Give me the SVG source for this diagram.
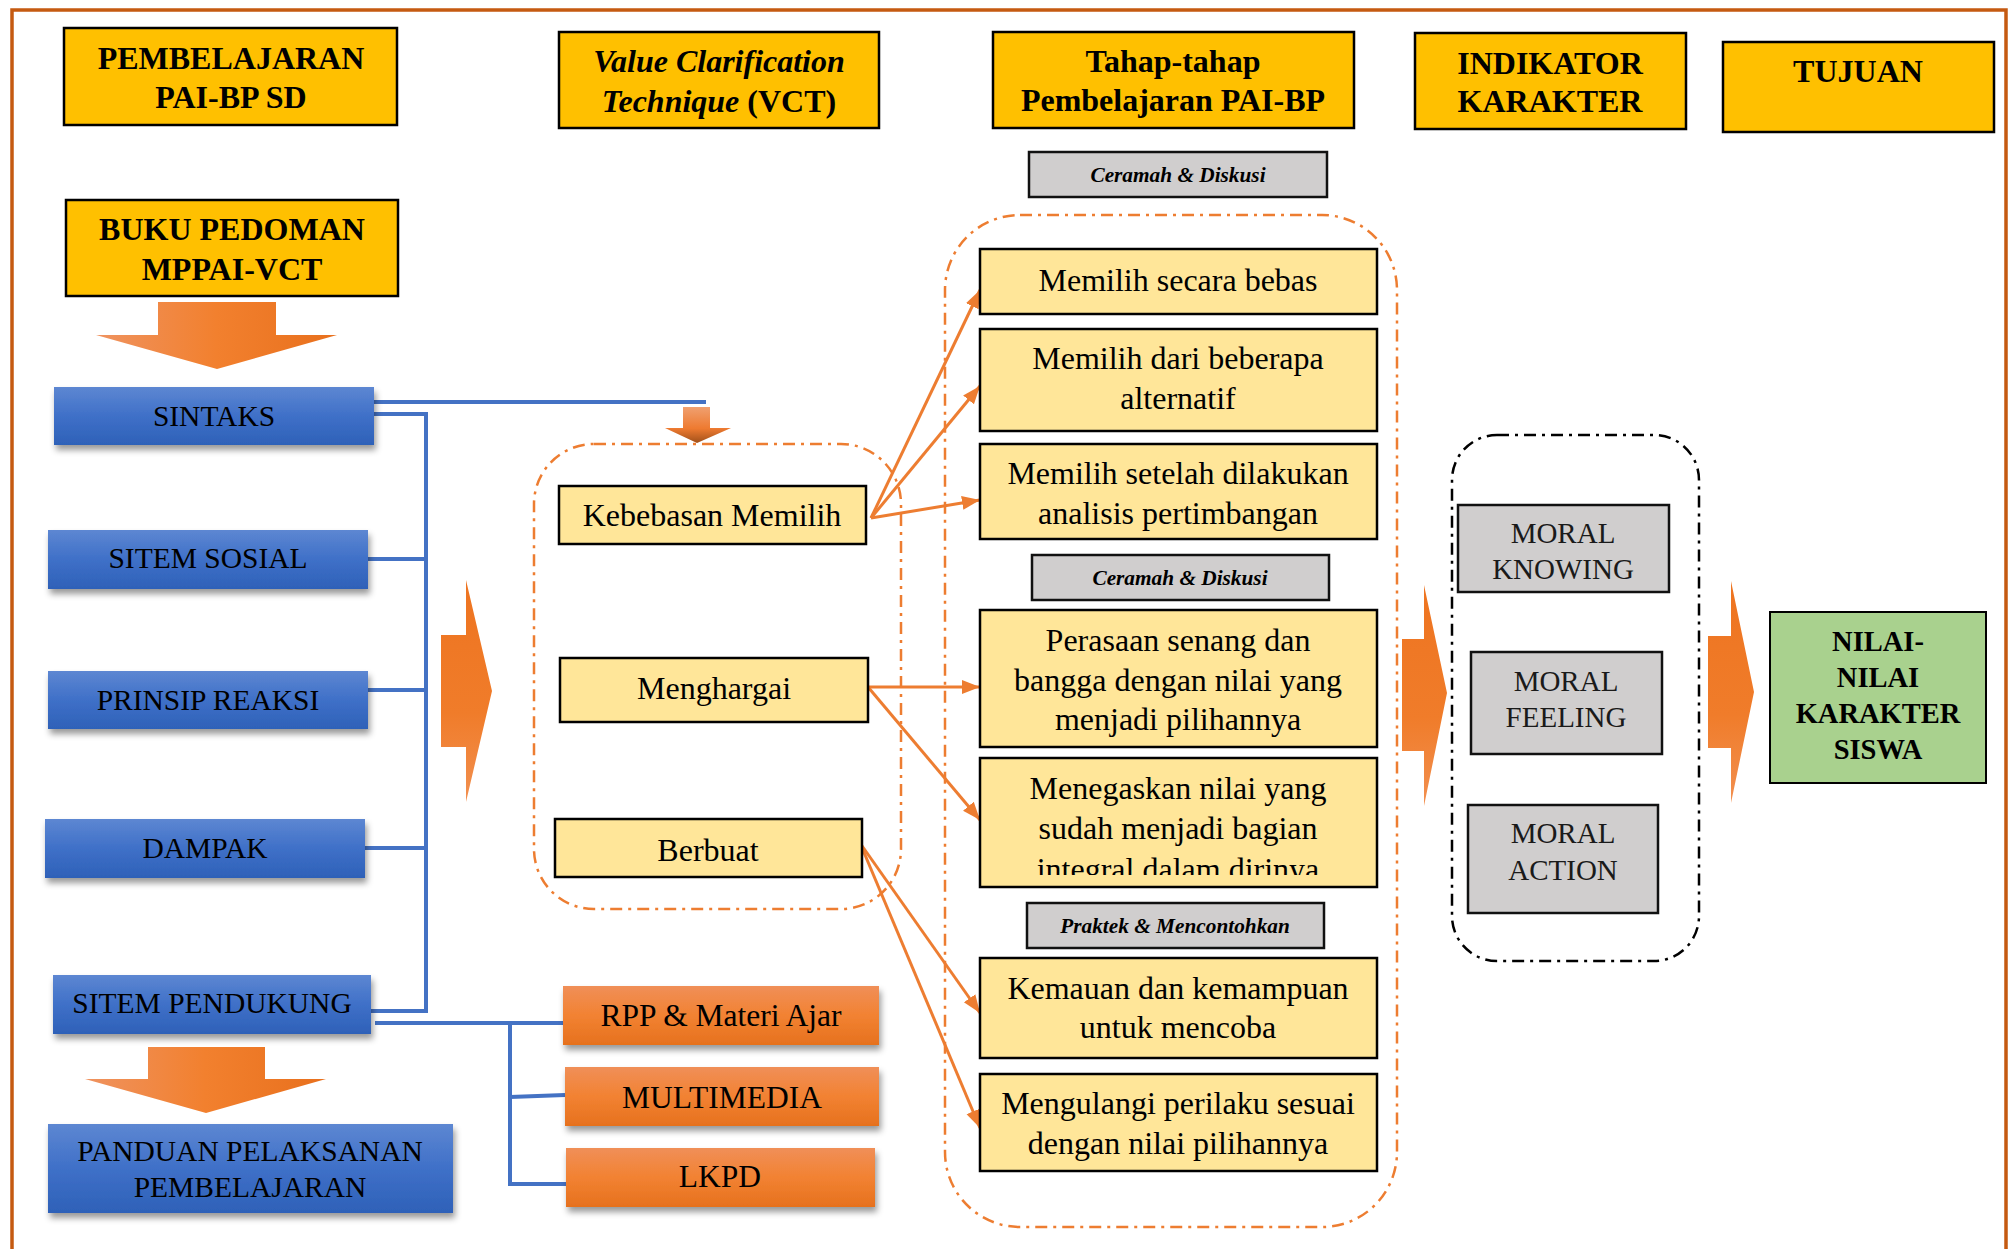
<svg xmlns="http://www.w3.org/2000/svg" width="2016" height="1249" viewBox="0 0 2016 1249">
<defs>
<linearGradient id="gBlue" x1="0" y1="0" x2="0" y2="1"><stop offset="0" stop-color="#5D87D2"/><stop offset="0.5" stop-color="#3F70C8"/><stop offset="1" stop-color="#2E61B8"/></linearGradient>
<linearGradient id="gOr" x1="0" y1="0" x2="0" y2="1"><stop offset="0" stop-color="#F08F58"/><stop offset="0.5" stop-color="#F28232"/><stop offset="1" stop-color="#E6711E"/></linearGradient>
<linearGradient id="gArH" x1="0" y1="0" x2="1" y2="0"><stop offset="0" stop-color="#EF9360"/><stop offset="0.5" stop-color="#F2802E"/><stop offset="1" stop-color="#E8701D"/></linearGradient>
<linearGradient id="gArV" x1="0" y1="0" x2="0" y2="1"><stop offset="0" stop-color="#EE7420"/><stop offset="0.6" stop-color="#F07C2A"/><stop offset="1" stop-color="#F29050"/></linearGradient>
<linearGradient id="gSm" x1="0" y1="0" x2="0" y2="1"><stop offset="0" stop-color="#F0A070"/><stop offset="0.6" stop-color="#EE7A30"/><stop offset="1" stop-color="#A0501A"/></linearGradient>
<filter id="sh" x="-10%" y="-10%" width="130%" height="150%"><feDropShadow dx="2" dy="5" stdDeviation="3" flood-color="#000" flood-opacity="0.4"/></filter>
<marker id="ah" markerUnits="userSpaceOnUse" markerWidth="20" markerHeight="16" refX="18" refY="8" orient="auto"><path d="M0,1 L18,8 L0,15 Z" fill="#ED7D31"/></marker>
<clipPath id="clipB5"><rect x="980" y="758" width="397" height="117"/></clipPath>
<style>
.hdr{fill:#FFC000;stroke:#000;stroke-width:2.5}
.ht{font-family:"Liberation Serif",serif;font-weight:bold;font-size:32px;text-anchor:middle;fill:#000}
.blue{fill:url(#gBlue);filter:url(#sh)}
.orn{fill:url(#gOr);filter:url(#sh)}
.bt{font-family:"Liberation Serif",serif;font-size:29.5px;text-anchor:middle;fill:#000}
.ot{font-family:"Liberation Serif",serif;font-size:31.5px;text-anchor:middle;fill:#000}
.yl{fill:#FFE699;stroke:#000;stroke-width:2.5}
.yt{font-family:"Liberation Serif",serif;font-size:32px;text-anchor:middle;fill:#000}
.gr{fill:#D0CECE;stroke:#111;stroke-width:2.5}
.gt{font-family:"Liberation Serif",serif;font-size:21.3px;font-style:italic;font-weight:bold;text-anchor:middle;fill:#000}
.mt{font-family:"Liberation Serif",serif;font-size:29px;text-anchor:middle;fill:#1a1a1a}
.nt{font-family:"Liberation Serif",serif;font-weight:bold;font-size:28.5px;text-anchor:middle;fill:#000}
.con{fill:none;stroke:#4472C4;stroke-width:4}
.arr{fill:none;stroke:#ED7D31;stroke-width:3;marker-end:url(#ah)}
.dOr{fill:none;stroke:#ED7D31;stroke-width:2.5;stroke-dasharray:12 6 3 6}
.dBk{fill:none;stroke:#000;stroke-width:2.5;stroke-dasharray:12 6 3 6}
</style>
</defs>
<rect width="2016" height="1249" fill="#fff"/>
<path d="M12,1249 V10 H2006 V1249" fill="none" stroke="#C55A11" stroke-width="3.5"/>

<g id="h-pembelajaran"><rect class="hdr" x="64" y="28" width="333" height="97"/><text class="ht" x="231" y="69">PEMBELAJARAN</text><text class="ht" x="231" y="108">PAI-BP SD</text></g>
<g id="h-vct"><rect class="hdr" x="559" y="32" width="320" height="96"/><text class="ht" x="719" y="72" font-style="italic">Value Clarification</text><text class="ht" x="719" y="112"><tspan font-style="italic">Technique</tspan> (VCT)</text></g>
<g id="h-tahap"><rect class="hdr" x="993" y="32" width="361" height="96"/><text class="ht" x="1173" y="72">Tahap-tahap</text><text class="ht" x="1173" y="111">Pembelajaran PAI-BP</text></g>
<g id="h-indikator"><rect class="hdr" x="1415" y="33" width="271" height="96"/><text class="ht" x="1550" y="74">INDIKATOR</text><text class="ht" x="1550" y="112">KARAKTER</text></g>
<g id="h-tujuan"><rect class="hdr" x="1723" y="42" width="271" height="90"/><text class="ht" x="1858" y="82">TUJUAN</text></g>
<g id="buku"><rect class="hdr" x="66" y="200" width="332" height="96"/><text class="ht" x="232" y="240">BUKU PEDOMAN</text><text class="ht" x="232" y="280">MPPAI-VCT</text></g>

<g id="connectors">
<path class="con" d="M374,402 H706"/>
<path class="con" d="M374,414 H426 V1011 H371"/>
<path class="con" d="M368,559 H426"/>
<path class="con" d="M368,690 H426"/>
<path class="con" d="M365,848 H426"/>
<path class="con" d="M375,1023 H563"/>
<path class="con" d="M510,1023 V1184 H566"/>
<path class="con" d="M510,1097 L565,1095"/>
<path class="arr" d="M871,518 L980,290"/>
<path class="arr" d="M871,518 L980,386"/>
<path class="arr" d="M871,518 L980,500"/>
<path class="arr" d="M868,687 L980,687"/>
<path class="arr" d="M868,687 L980,820"/>
<path class="arr" d="M860,843 L980,1013"/>
<path class="arr" d="M860,843 L980,1128"/>
</g>

<g id="big-arrows">
<polygon points="158,302 276,302 276,335 337,335 217,369 96,335 158,335" fill="url(#gArH)"/>
<polygon points="148,1047 265,1047 265,1079 326,1079 206,1113 85,1079 148,1079" fill="url(#gArH)"/>
<polygon points="683,407 710,407 710,428 731,428 697,443 665,428 683,428" fill="url(#gSm)"/>
<polygon points="441,635 466,635 466,580 492,691 466,802 466,747 441,747" fill="url(#gArV)"/>
<polygon points="1402,639 1424,639 1424,585 1447,693 1424,806 1424,751 1402,751" fill="url(#gArV)"/>
<polygon points="1708,636 1731,636 1731,581 1754,692 1731,803 1731,748 1708,748" fill="url(#gArV)"/>
</g>

<g id="sintaks"><rect class="blue" x="54" y="387" width="320" height="58"/><text class="bt" x="214" y="426">SINTAKS</text></g>
<g id="sitem-sosial"><rect class="blue" x="48" y="530" width="320" height="59"/><text class="bt" x="208" y="568">SITEM SOSIAL</text></g>
<g id="prinsip-reaksi"><rect class="blue" x="48" y="671" width="320" height="58"/><text class="bt" x="208" y="710">PRINSIP REAKSI</text></g>
<g id="dampak"><rect class="blue" x="45" y="819" width="320" height="59"/><text class="bt" x="205" y="858">DAMPAK</text></g>
<g id="sitem-pendukung"><rect class="blue" x="53" y="975" width="318" height="59"/><text class="bt" x="212" y="1013">SITEM PENDUKUNG</text></g>
<g id="panduan"><rect class="blue" x="48" y="1124" width="405" height="89"/><text class="bt" x="250" y="1161">PANDUAN PELAKSANAN</text><text class="bt" x="250" y="1197">PEMBELAJARAN</text></g>

<g id="rpp"><rect class="orn" x="563" y="986" width="316" height="59"/><text class="ot" x="721" y="1026">RPP &amp; Materi Ajar</text></g>
<g id="multimedia"><rect class="orn" x="565" y="1067" width="314" height="59"/><text class="ot" x="722" y="1108">MULTIMEDIA</text></g>
<g id="lkpd"><rect class="orn" x="566" y="1148" width="309" height="59"/><text class="ot" x="720" y="1187">LKPD</text></g>

<g id="vct-group"><rect class="dOr" x="534" y="444" width="367" height="465" rx="60"/></g>
<g id="kebebasan"><rect class="yl" x="559" y="486" width="307" height="58"/><text class="yt" x="712" y="526">Kebebasan Memilih</text></g>
<g id="menghargai"><rect class="yl" x="560" y="658" width="308" height="64"/><text class="yt" x="714" y="699">Menghargai</text></g>
<g id="berbuat"><rect class="yl" x="555" y="819" width="307" height="58"/><text class="yt" x="708" y="861">Berbuat</text></g>

<g id="tahap-group"><rect class="dOr" x="945" y="215" width="452" height="1012" rx="75"/></g>
<g id="ceramah1"><rect class="gr" x="1029" y="152" width="298" height="45"/><text class="gt" x="1178" y="182">Ceramah &amp; Diskusi</text></g>
<g id="b1"><rect class="yl" x="980" y="249" width="397" height="65"/><text class="yt" x="1178" y="291">Memilih secara bebas</text></g>
<g id="b2"><rect class="yl" x="980" y="329" width="397" height="102"/><text class="yt" x="1178" y="369">Memilih dari beberapa</text><text class="yt" x="1178" y="409">alternatif</text></g>
<g id="b3"><rect class="yl" x="980" y="444" width="397" height="95"/><text class="yt" x="1178" y="484">Memilih setelah dilakukan</text><text class="yt" x="1178" y="524">analisis pertimbangan</text></g>
<g id="ceramah2"><rect class="gr" x="1032" y="555" width="297" height="45"/><text class="gt" x="1180" y="585">Ceramah &amp; Diskusi</text></g>
<g id="b4"><rect class="yl" x="980" y="610" width="397" height="137"/><text class="yt" x="1178" y="651">Perasaan senang dan</text><text class="yt" x="1178" y="691">bangga dengan nilai yang</text><text class="yt" x="1178" y="730">menjadi pilihannya</text></g>
<g id="b5"><rect class="yl" x="980" y="758" width="397" height="129"/><g clip-path="url(#clipB5)"><text class="yt" x="1178" y="799">Menegaskan nilai yang</text><text class="yt" x="1178" y="839">sudah menjadi bagian</text><text class="yt" x="1178" y="880">integral dalam dirinya</text></g></g>
<g id="praktek"><rect class="gr" x="1027" y="903" width="297" height="45"/><text class="gt" x="1175" y="933">Praktek &amp; Mencontohkan</text></g>
<g id="b6"><rect class="yl" x="980" y="958" width="397" height="100"/><text class="yt" x="1178" y="999">Kemauan dan kemampuan</text><text class="yt" x="1178" y="1038">untuk mencoba</text></g>
<g id="b7"><rect class="yl" x="980" y="1074" width="397" height="97"/><text class="yt" x="1178" y="1114">Mengulangi perilaku sesuai</text><text class="yt" x="1178" y="1154">dengan nilai pilihannya</text></g>

<g id="indikator-group"><rect class="dBk" x="1452" y="435" width="247" height="526" rx="45"/></g>
<g id="moral-knowing"><rect class="gr" x="1458" y="505" width="211" height="87"/><text class="mt" x="1563" y="543">MORAL</text><text class="mt" x="1563" y="579">KNOWING</text></g>
<g id="moral-feeling"><rect class="gr" x="1471" y="652" width="191" height="102"/><text class="mt" x="1566" y="691">MORAL</text><text class="mt" x="1566" y="727">FEELING</text></g>
<g id="moral-action"><rect class="gr" x="1468" y="805" width="190" height="108"/><text class="mt" x="1563" y="843">MORAL</text><text class="mt" x="1563" y="880">ACTION</text></g>

<g id="nilai"><rect x="1770" y="612" width="216" height="171" fill="#A9D18E" stroke="#000" stroke-width="2"/><text class="nt" x="1878" y="651">NILAI-</text><text class="nt" x="1878" y="687">NILAI</text><text class="nt" x="1878" y="723">KARAKTER</text><text class="nt" x="1878" y="759">SISWA</text></g>
</svg>
